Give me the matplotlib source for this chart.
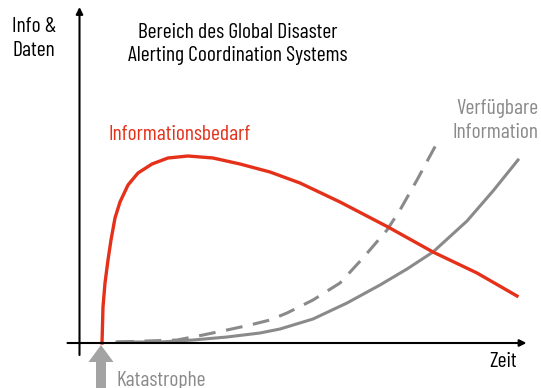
import numpy as np
import matplotlib.pyplot as plt

plt.rcParams['font.family'] = ['Barlow Condensed', 'Liberation Sans', 'DejaVu Sans']

# time (x) and amount of info (y), origin = where the axes cross
bedarf_t = [22.5, 23.5, 25.5, 28.5, 31.5, 35.5, 40.5, 48.5, 58.5, 72.5, 88.5, 108.5, 133.5, 160.5,
            190.5, 220.5, 260.5, 308.5, 353.5, 397.5, 437.5]
bedarf_v = [0, 36, 60, 83, 103, 125, 141, 158, 170, 179, 185, 187, 185, 179,
            171, 160, 141, 116, 91, 70, 47]

# verfuegbare Information (solid)
info_t = [37.5, 80.5, 113.5, 147.5, 180.5, 200.5, 233.5, 267.5, 300.5, 327.5, 353.5, 387.5, 413.5, 438.5]
info_v = [1, 1, 3, 6, 10, 14, 24, 40, 58, 74, 91, 122, 152, 183]

# dashed variant
info2_t = [37.5, 97.5, 123.5, 147.5, 170.5, 190.5, 207.5, 233.5, 260.5, 283.5, 307.5, 320.5, 337.5, 357.5]
info2_v = [1, 3, 8, 13, 18, 23, 30, 43, 60, 85, 113, 133, 163, 200]

RED = '#e5301a'
GREY = '#8a8a8a'

fig = plt.figure(figsize=(5.41, 3.88), dpi=100)
ax = fig.add_axes([0, 0, 1, 1])
ax.set_xlim(-79.5, 461.5)
ax.set_ylim(-45, 343)
ax.axis('off')

# axes with arrow heads
ax.annotate('', xy=(0, 336), xytext=(0, -12),
            arrowprops=dict(arrowstyle='-|>', color='black', lw=1.5, mutation_scale=10, shrinkA=0, shrinkB=0))
ax.annotate('', xy=(447, 0), xytext=(-12, 0),
            arrowprops=dict(arrowstyle='-|>', color='black', lw=1.5, mutation_scale=10, shrinkA=0, shrinkB=0))

ax.plot(info2_t, info2_v, color=GREY, lw=2.2, dashes=(5.5, 3.5), dash_capstyle='butt', dash_joinstyle='round')
ax.plot(info_t, info_v, color=GREY, lw=2.2, solid_joinstyle='round')
ax.plot(bedarf_t, bedarf_v, color=RED, lw=2.4, solid_joinstyle='round')

# Katastrophe arrow
ax.arrow(21.5, -45, 0, 43, width=10, head_width=25, head_length=17,
         length_includes_head=True, color='#a3a3a3', lw=0)

fs = 15.5
# va='baseline' on multi-line text refers to the last line
ax.text(-67.5, 287, 'Info &\nDaten', fontsize=fs, va='baseline', ha='left', linespacing=1.3)
ax.text(158, 282, 'Bereich des Global Disaster\nAlerting Coordination Systems', fontsize=fs,
        va='baseline', ha='center', linespacing=1.25)
ax.text(100.5, 203, 'Informationsbedarf', fontsize=fs, color=RED, va='baseline', ha='center')
ax.text(459, 205, 'Verfügbare\nInformation', fontsize=fs, color=GREY, va='baseline', ha='right',
        linespacing=1.3)
ax.text(437, -24, 'Zeit', fontsize=fs, va='baseline', ha='right')
ax.text(37, -43, 'Katastrophe', fontsize=fs, color=GREY, va='baseline', ha='left')

fig.savefig('out.png', dpi=100)
